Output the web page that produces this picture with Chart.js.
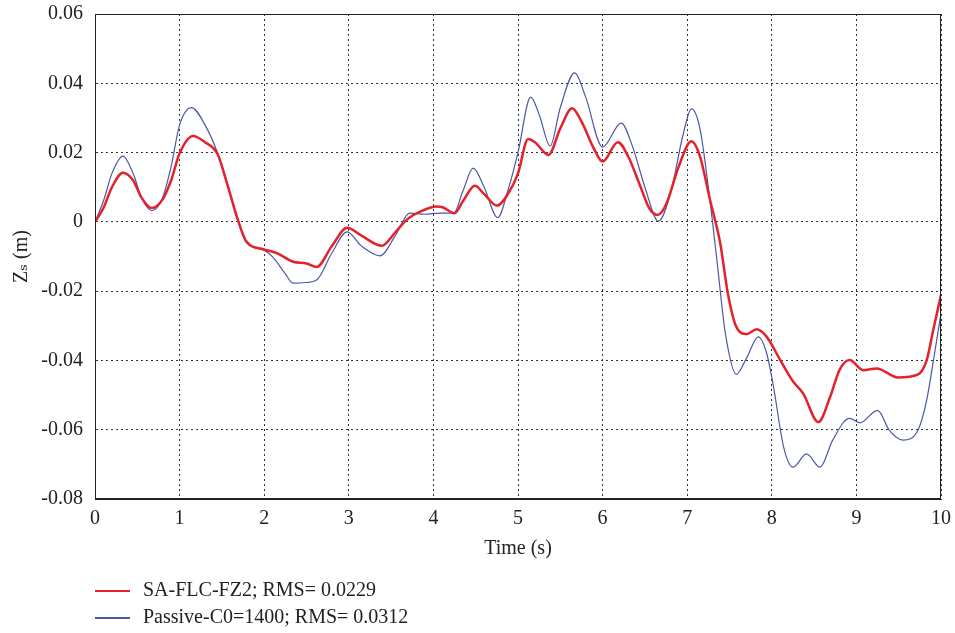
<!DOCTYPE html>
<html lang="en">
<head>
    <meta charset="UTF-8">
    <title>Zs response</title>
    <script src="https://cdn.jsdelivr.net/npm/chart.js@4.4.0/dist/chart.umd.min.js"></script>
    <style>
        body { margin: 0; background: #fff; }
        #wrap { position: relative; width: 955px; height: 633px; }
        #leyenda { position: absolute; left: 95px; top: 576px; font-family: "Liberation Serif", "DejaVu Serif", serif; font-size: 20px; color: #222; }
        #leyenda div { height: 27px; line-height: 27px; }
        #leyenda span.linea { display: inline-block; width: 35px; height: 2px; vertical-align: middle; margin-right: 13px; }
    </style>
</head>
<body>
<div id="wrap">
    <canvas id="grafico" width="955" height="633"></canvas>
    <div id="leyenda"></div>
</div>

<script>
// datos
var etiquetas = ['SA-FLC-FZ2; RMS= 0.0229', 'Passive-C0=1400; RMS= 0.0312'];

var tiempoSA = [0, 0.1, 0.2, 0.33, 0.45, 0.55, 0.67, 0.8, 0.9, 1.0, 1.16, 1.3, 1.45, 1.55, 1.69, 1.79, 1.99, 2.15, 2.34, 2.5, 2.62, 2.8, 2.98, 3.15, 3.39, 3.55, 3.68, 3.85, 4.04, 4.1, 4.25, 4.35, 4.49, 4.6, 4.75, 4.88, 5.0, 5.12, 5.2, 5.36, 5.5, 5.64, 5.75, 5.9, 6.0, 6.18, 6.3, 6.45, 6.55, 6.65, 6.75, 6.9, 7.05, 7.15, 7.27, 7.39, 7.48, 7.58, 7.7, 7.82, 7.94, 8.1, 8.25, 8.37, 8.55, 8.69, 8.8, 8.92, 9.08, 9.24, 9.49, 9.73, 9.83, 9.91, 10];
var zsSA = [0, 0.004, 0.010, 0.0142, 0.012, 0.007, 0.004, 0.0065, 0.012, 0.0198, 0.0248, 0.023, 0.0195, 0.012, 0.0005, -0.0057, -0.0079, -0.009, -0.0115, -0.012, -0.013, -0.007, -0.0017, -0.004, -0.0069, -0.003, 0.0005, 0.003, 0.0044, 0.0043, 0.0025, 0.006, 0.0104, 0.008, 0.0047, 0.008, 0.014, 0.0239, 0.023, 0.0193, 0.027, 0.0328, 0.029, 0.021, 0.0174, 0.023, 0.019, 0.010, 0.004, 0.002, 0.005, 0.016, 0.0233, 0.019, 0.0063, -0.0061, -0.0206, -0.0303, -0.0324, -0.031, -0.0332, -0.0399, -0.046, -0.0495, -0.0578, -0.0505, -0.0428, -0.0399, -0.0428, -0.0423, -0.0449, -0.044, -0.040, -0.031, -0.0211];

var tiempoPas = [0, 0.1, 0.2, 0.33, 0.45, 0.55, 0.67, 0.8, 0.9, 1.0, 1.14, 1.3, 1.45, 1.55, 1.69, 1.79, 1.99, 2.1, 2.25, 2.34, 2.5, 2.62, 2.8, 2.98, 3.15, 3.37, 3.55, 3.72, 3.9, 4.08, 4.24, 4.35, 4.47, 4.6, 4.76, 4.88, 5.0, 5.15, 5.25, 5.38, 5.5, 5.67, 5.8, 6.0, 6.22, 6.35, 6.5, 6.66, 6.8, 6.95, 7.05, 7.15, 7.27, 7.36, 7.45, 7.58, 7.7, 7.84, 7.94, 8.02, 8.14, 8.25, 8.41, 8.57, 8.72, 8.92, 9.04, 9.25, 9.39, 9.55, 9.73, 9.83, 9.93, 10];
var zsPas = [0, 0.006, 0.014, 0.019, 0.014, 0.007, 0.0032, 0.007, 0.016, 0.028, 0.033, 0.028, 0.0198, 0.012, 0.0005, -0.006, -0.0081, -0.0101, -0.015, -0.0177, -0.0175, -0.0168, -0.009, -0.0029, -0.007, -0.0098, -0.004, 0.0025, 0.0022, 0.0025, 0.0025, 0.009, 0.0155, 0.010, 0.0012, 0.009, 0.020, 0.036, 0.031, 0.0219, 0.033, 0.043, 0.036, 0.0216, 0.0285, 0.022, 0.010, 0.0002, 0.008, 0.025, 0.0326, 0.027, 0.006, -0.013, -0.032, -0.044, -0.0394, -0.0332, -0.038, -0.0476, -0.065, -0.0708, -0.067, -0.0708, -0.063, -0.0567, -0.058, -0.0544, -0.0602, -0.063, -0.060, -0.0515, -0.037, -0.0264];

var colores = ['#e3222b', '#4a58a6'];
var grosores = [2.5, 1.2];

function puntos(t, v) {
    var salida = [];
    for (var i = 0; i < t.length; i++) {
        salida.push({ x: t[i], y: v[i] });
    }
    return salida;
}

var fuente = { family: '"Liberation Serif", "DejaVu Serif", serif', size: 20 };

// marco negro alrededor del area del grafico
var marco = {
    id: 'marco',
    afterDraw: function(chart) {
        var a = chart.chartArea;
        var c = chart.ctx;
        c.save();
        c.strokeStyle = '#222';
        c.lineWidth = 1;
        c.strokeRect(a.left + 0.5, a.top + 0.5, a.right - a.left - 1, a.bottom - a.top - 1);
        c.restore();
    }
};

const ctx = document.getElementById('grafico');
new Chart(ctx, {
    type: 'line',
    data: {
        datasets: [{
            label: etiquetas[0],
            data: puntos(tiempoSA, zsSA),
            borderColor: colores[0],
            borderWidth: grosores[0],
            pointRadius: 0,
            cubicInterpolationMode: 'monotone'
        }, {
            label: etiquetas[1],
            data: puntos(tiempoPas, zsPas),
            borderColor: colores[1],
            borderWidth: grosores[1],
            pointRadius: 0,
            cubicInterpolationMode: 'monotone'
        }]
    },
    options: {
        responsive: false,
        animation: false,
        layout: { padding: { top: 14, right: 14, bottom: 72, left: 0 } },
        plugins: { legend: { display: false }, tooltip: { enabled: false } },
        scales: {
            x: {
                type: 'linear',
                min: 0,
                max: 10,
                ticks: { stepSize: 1, color: '#222', font: fuente, padding: 8 },
                grid: { color: '#333', drawTicks: false },
                border: { color: '#222', dash: [2, 3] },
                title: { display: true, text: 'Time (s)', color: '#222', font: fuente, padding: { top: -2, bottom: 0 } },
                afterFit: function(scale) { scale.paddingLeft = 0; scale.paddingRight = 0; }
            },
            y: {
                min: -0.08,
                max: 0.06,
                ticks: {
                    stepSize: 0.02,
                    color: '#222',
                    font: fuente,
                    padding: 12,
                    callback: function(v) {
                        if (Math.abs(v) < 1e-9) return '0';
                        return v.toFixed(2);
                    }
                },
                grid: { color: '#333', drawTicks: false },
                border: { color: '#222', dash: [2, 3] },
                title: { display: true, text: 'Zₛ (m)', color: '#222', font: fuente, padding: { top: 10, bottom: 4 } },
                afterFit: function(scale) {
                    scale.width = 95;
                    scale.paddingTop = 0;
                    scale.paddingBottom = 0;
                }
            }
        }
    },
    plugins: [marco]
});

var leyenda = document.getElementById('leyenda');
for (var i = 0; i < etiquetas.length; i++) {
    var fila = document.createElement('div');
    fila.innerHTML = '<span class="linea" style="background:' + colores[i] + '"></span>' + etiquetas[i];
    leyenda.appendChild(fila);
}
</script>
</body>
</html>
